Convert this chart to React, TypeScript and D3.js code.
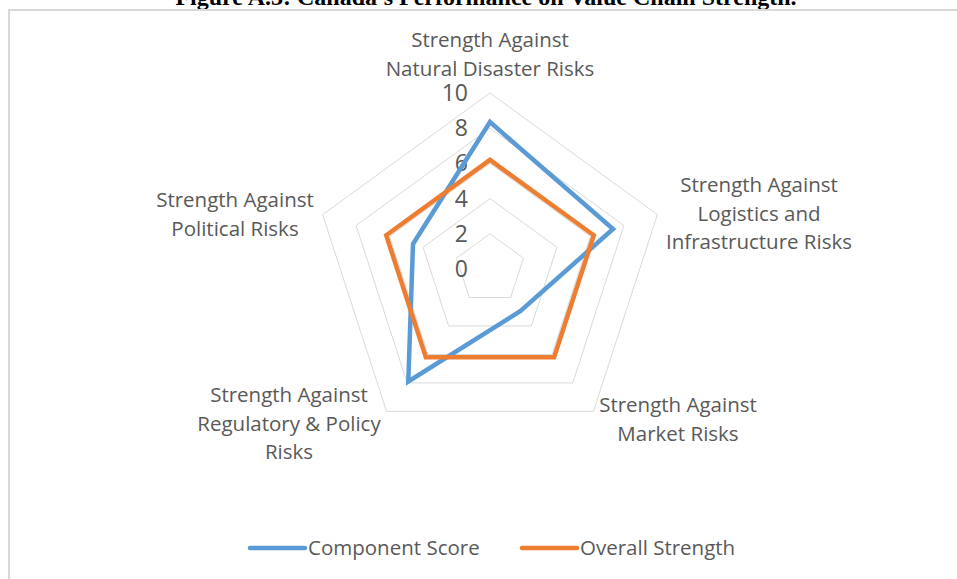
import * as d3 from 'd3';

// axes, clockwise from the top
const categories = [
  ['Strength Against', 'Natural Disaster Risks'],
  ['Strength Against', 'Logistics and', 'Infrastructure Risks'],
  ['Strength Against', 'Market Risks'],
  ['Strength Against', 'Regulatory & Policy', 'Risks'],
  ['Strength Against', 'Political Risks'],
];
const componentScore = [8.35, 7.35, 2.95, 7.9, 4.6];
const overallStrength = [6.2, 6.2, 6.2, 6.2, 6.2];
const ticks = [0, 2, 4, 6, 8, 10];
const seriesNames = ['Component Score', 'Overall Strength'];
const colors = ['#5B9BD5', '#ED7D31'];

const title = "Figure A.3: Canada's Performance on Value Chain Strength.";

export default function App() {
  const width = 957, height = 579;
  const cx = 490, cy = 269, radius = 176;
  const font = '"Open Sans", sans-serif';
  const grey = '#595959';

  const r = d3.scaleLinear([0, 10], [0, radius]);
  const angle = d3.scaleLinear([0, categories.length], [0, 2 * Math.PI]);

  const radar = d3.lineRadial<number>()
    .angle((d, i) => angle(i))
    .radius(d => r(d))
    .curve(d3.curveLinearClosed);

  const ring = (v: number) => radar(categories.map(() => v)) as string;

  // label anchor points (centre x, first baseline) for each axis
  const labelPos: [number, number][] = [
    [490, 47], [759, 192], [678, 412], [289, 402], [235, 207],
  ];
  const lineGap = 28.5;

  const series = [componentScore, overallStrength];

  return (
    <div style={{position: 'absolute', left: 0, top: 0}}>
      <svg width={width} height={height} style={{display: 'block', background: '#fff'}}>
        <text x={486} y={5} textAnchor="middle" fontFamily='"Liberation Serif", "Times New Roman", serif'
              fontWeight="bold" fontSize={24} fill="#000">{title}</text>
        <rect x={9} y={10} width={width + 20} height={height + 20} fill="#fff" stroke="#d9d9d9" strokeWidth={2}/>

        <g transform={`translate(${cx},${cy})`}>
          {ticks.filter(t => t > 0).map(t => (
            <path key={t} d={ring(t)} fill="none" stroke="#d9d9d9" strokeWidth={1}/>
          ))}
          {ticks.map(t => (
            <text key={t} x={-22} y={-r(t)} dy="0.35em" textAnchor="end" fontFamily={font}
                  fontSize={23} fill={grey}>{t}</text>
          ))}
          {series.map((s, i) => (
            <path key={i} d={radar(s) as string} fill="none" stroke={colors[i]} strokeWidth={4.5}
                  strokeLinejoin="miter"/>
          ))}
        </g>

        {categories.map((lines, i) => (
          <text key={i} textAnchor="middle" fontFamily={font} fontSize={20.5} fill={grey}>
            {lines.map((l, j) => (
              <tspan key={j} x={labelPos[i][0]} y={labelPos[i][1] + j * lineGap}>{l}</tspan>
            ))}
          </text>
        ))}

        {seriesNames.map((name, i) => {
          const x0 = [250, 522][i];
          return (
            <g key={name}>
              <line x1={x0} x2={x0 + 55} y1={548} y2={548} stroke={colors[i]} strokeWidth={4.5}
                    strokeLinecap="round"/>
              <text x={x0 + 58} y={548} dy="0.35em" fontFamily={font} fontSize={20.5} fill={grey}>{name}</text>
            </g>
          );
        })}
      </svg>
    </div>
  );
}
